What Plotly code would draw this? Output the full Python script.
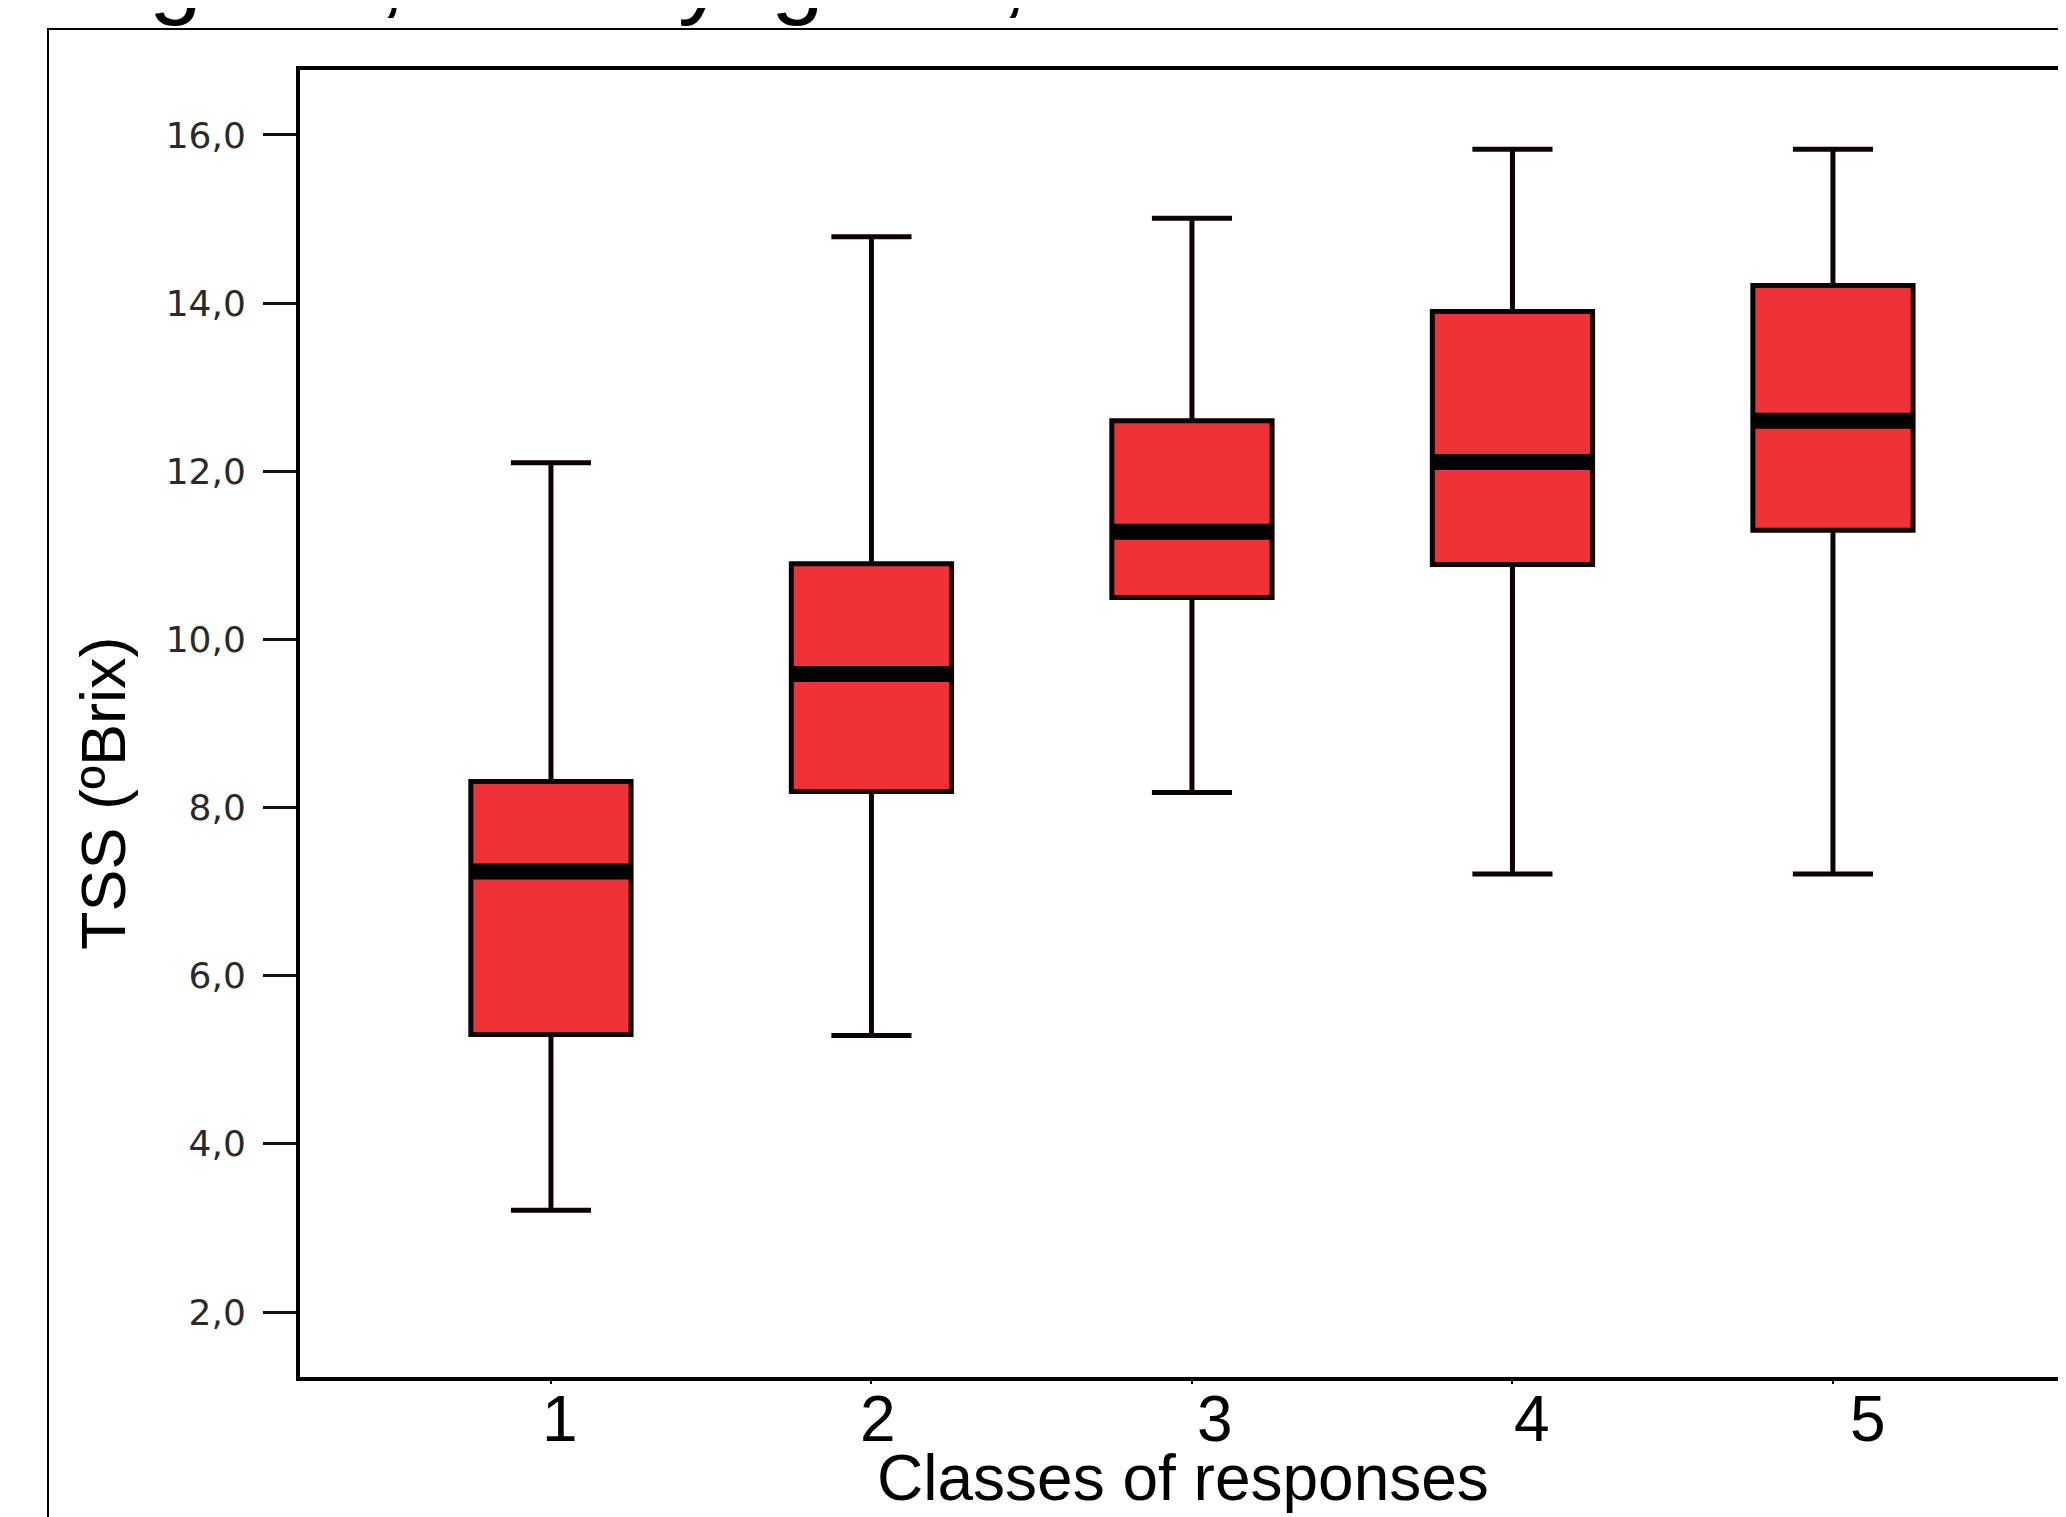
import plotly.graph_objects as go

# ---- data ----
classes = [1, 2, 3, 4, 5]
class_labels = ["1", "2", "3", "4", "5"]
lower_whisker = [3.21, 5.29, 8.18, 7.21, 7.21]
q1_values = [5.30, 8.19, 10.50, 10.89, 11.30]
median_values = [7.24, 9.59, 11.28, 12.11, 12.60]
q3_values = [8.31, 10.90, 12.60, 13.90, 14.21]
upper_whisker = [12.10, 14.79, 15.01, 15.83, 15.83]

y_tick_values = [2, 4, 6, 8, 10, 12, 14, 16]
y_tick_labels = ["2,0", "4,0", "6,0", "8,0", "10,0", "12,0", "14,0", "16,0"]

x_title = "Classes of responses"
y_title = "TSS (ºBrix)"
title_fragments = [("g", 175), (",", 392), ("y", 702), ("g", 797), (",", 1014)]

# ---- layout constants (page pixels; the page body has an 8px margin) ----
PAGE_W, PAGE_H = 2066, 1517
BODY = 8
W, H = PAGE_W - BODY, PAGE_H - BODY
ML = 300 - BODY
MT = 70 - BODY
AXIS_BOTTOM = 1377 - BODY
MB = H - AXIS_BOTTOM
MR = 0
PW = W - ML - MR
PH = H - MT - MB
BOX_W = 0.5
RED = "#ee3238"
label_xshift = [9, 7, 23, 20, 35]

fig = go.Figure()

fig.add_trace(go.Box(
    x=classes,
    q1=q1_values,
    median=median_values,
    q3=q3_values,
    lowerfence=lower_whisker,
    upperfence=upper_whisker,
    width=BOX_W,
    whiskerwidth=0.5,
    fillcolor=RED,
    line=dict(color="#0e0303", width=5),
    boxpoints=False,
    showlegend=False,
    hoverinfo="skip",
))

# thick median bars
mx, my = [], []
for c, m in zip(classes, median_values):
    mx += [c - BOX_W / 2, c + BOX_W / 2, None]
    my += [m, m, None]
fig.add_trace(go.Scatter(
    x=mx, y=my, mode="lines",
    line=dict(color="black", width=16),
    showlegend=False, hoverinfo="skip",
))


def px_to_paper_x(page_px):
    return (page_px - BODY - ML) / PW


def px_to_paper_y(page_py):
    return (H - MB - (page_py - BODY)) / PH


annotations = [
    dict(text=x_title, xref="paper", yref="paper", x=0.5, y=0,
         xanchor="center", yanchor="middle", yshift=-101, showarrow=False,
         font=dict(family="Liberation Sans, Arial", size=64, color="black")),
    dict(text=y_title, xref="paper", yref="paper", x=0, y=0,
         xanchor="center", yanchor="middle", xshift=-(300 - 103), yshift=(1377 - 793),
         textangle=-90, showarrow=False,
         font=dict(family="Liberation Sans, Arial", size=63, color="black")),
]
for lab, c, dx in zip(class_labels, classes, label_xshift):
    annotations.append(dict(
        text=lab, xref="x", yref="paper", x=c, y=0,
        xanchor="center", yanchor="middle", xshift=dx, yshift=-42, showarrow=False,
        font=dict(family="Liberation Sans, Arial", size=64, color="black")))
for txt, xc in title_fragments:
    annotations.append(dict(
        text=txt, xref="paper", yref="paper", x=px_to_paper_x(xc), y=1,
        xanchor="center", yanchor="bottom", yshift=42, showarrow=False,
        font=dict(family="Liberation Sans, Arial", size=95, color="black")))

shapes = [
    # outer slide frame
    dict(type="rect", xref="paper", yref="paper",
         x0=px_to_paper_x(48), x1=px_to_paper_x(PAGE_W + 40),
         y0=px_to_paper_y(PAGE_H + 40), y1=px_to_paper_y(29),
         line=dict(color="black", width=2), fillcolor="rgba(0,0,0,0)", layer="below"),
]

fig.update_layout(
    width=W, height=H,
    margin=dict(l=ML, r=MR, t=MT, b=MB, pad=0),
    paper_bgcolor="white", plot_bgcolor="white",
    showlegend=False,
    annotations=annotations,
    shapes=shapes,
    xaxis=dict(
        range=[0.217, 0.217 + PW / 320.5],
        tickmode="array", tickvals=classes, ticktext=class_labels,
        showticklabels=False,
        ticks="outside", ticklen=3, tickwidth=2, tickcolor="black",
        showline=True, linecolor="black", linewidth=4, mirror=True,
        showgrid=False, zeroline=False,
    ),
    yaxis=dict(
        range=[1.227, 16.773],
        tickmode="array", tickvals=y_tick_values, ticktext=y_tick_labels,
        ticks="outside", ticklen=33, tickwidth=3, tickcolor="#111",
        showline=True, linecolor="black", linewidth=4,
        showgrid=False, zeroline=False,
        tickfont=dict(family="DejaVu Sans", size=36, color="#2a2a2a"),
        ticklabelstandoff=10,
    ),
)

fig.write_html("out.html")
